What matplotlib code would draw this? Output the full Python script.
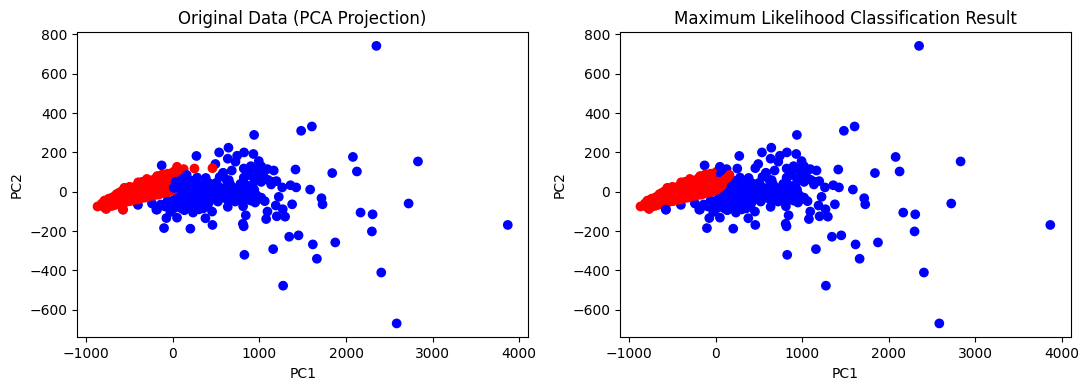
import matplotlib
matplotlib.use("Agg")
import matplotlib.pyplot as plt

# groups: (pc1, pc2)
both_blue_pc1 = [2350, 938, 1481, 1605, 822, 930, 992, 2079, 2830, 1416, 1840, 2125, 1092, 1165, 1196, 1135, 1262, 1358, 1424, 1585,
                 1716, 1728, 2722, 2167, 2306, 2298, 3867, 1223, 1061, 1188, 1377, 1269, 1092, 1077, 1200, 1296, 842, 818, 826,
                 1343, 1451, 1616, 1875, 1158, 1663, 2406, 1273, 2584,
                 642, 534, 634, 742, 723, 272, 491, -129, 1020, 819, 580, 680, 819, 993, 280, 646, 811, 808, 634, 530, 453, 376, 457,
                 202, -102, -75, 48, 133, 233, -183, -403, -576,
                 60, 100, 140, 180, 220, 260, 300, 340, 380, 420, 460, 500, 540, 580, 620, 660,
                 60, 110, 150, 200, 240, 280, 320, 360, 400, 440, 480, 520, 560,
                 700, 740, 780, 820, 860, 900, 940, 980, 1020, 700, 760, 800, 850, 900, 950, 980,
                 860, 900, 950, 1000, 880, 940, 1050, 1100, 1150, 830, 1020,
                 -140, -90, -40, 10, -60, 0, 70, 160, 120, 230,
                 30, 80, 130, 170, 210, 250, 290, 330, 370, 410, 450, 490,
                 20, 70, 120, 165, 215, 255, 295, 335, 375, 415, 430, 470,
                 40, 90, 180, 230, 270, 310, 350, 390, 520, 600, 640, 680,
                 -241, -191, -106, -29, 68, -29, 100, 160, 220, 300, 400,
                 580, 620, 660, 600, 740, 780, 860, 720, 830, 640, 920, 960]
both_blue_pc2 = [742, 289, 310, 332, 200, 192, 156, 177, 154, 113, 95, 103, 115, 108, 54, 37, 22, 33, 22, 11,
                 -33, -64, -60, -106, -115, -202, -169, -26, -48, -70, -64, -89, -101, -139, -125, -127, -120, -176, -321,
                 -229, -222, -268, -258, -292, -341, -411, -478, -670,
                 224, 200, 168, 183, 153, 182, 141, 134, 130, 118, 96, 108, 72, 93, 72, 59, -74, -163, -77, -23, -101, -135, -169,
                 -188, -185, -134, -132, -94, -106, -91, -67, -91,
                 40, 20, -5, 30, 55, 10, -20, 35, 70, 20, -5, 45, 75, 95, 60, 40,
                 -20, -40, -60, -35, -10, -50, -30, -70, -40, -20, 10, 30, -10,
                 -10, 10, 0, -15, 20, -5, 10, -25, -30, 20, -35, -50, -40, -45, -55, -40,
                 110, 130, 115, 90, 85, 65, 75, 60, 50, 40, 50,
                 -65, -75, -60, -85, -45, -50, -70, -50, -30, -45,
                 5, 10, 35, 5, 25, 40, 15, -5, 40, 45, 35, 10,
                 -40, -10, 5, -20, -50, -25, -45, -25, -5, -55, 40, -35,
                 -60, -55, -55, -65, -70, -55, -85, -60, -50, -30, 25, 5,
                 -60, -91, -69, -60, -77, -103, -85, -85, -80, -90, -75,
                 -30, -15, 10, 20, -20, 40, -25, -50, 25, -45, 35, -15]

both_red_pc1 = [-870, -820, -820, -790, -790, -790, -770, -770, -770, -740, -740, -740, -700, -700, -700, -680, -680, -680,
                -650, -650, -650, -650, -620, -620, -620, -620, -590, -590, -590, -590, -560, -560, -560, -560,
                -530, -530, -530, -530, -500, -500, -500, -500, -470, -470, -470, -470, -440, -440, -440, -440,
                -410, -410, -410, -410, -380, -380, -380, -380, -350, -350, -350, -350, -320, -320, -320, -320,
                -290, -290, -290, -290, -260, -260, -260, -260, -230, -230, -230, -230, -200, -200, -200, -200,
                -170, -170, -170, -170, -140, -140, -140, -140, -110, -110, -110, -110, -80, -80, -80, -80,
                -50, -50, -50, -50, -20, -20, -20, 10, 10, -355, -190, -120, -30, -560,
                -500, -400, -300, -180, -120, -60, 10, 40, 70, 30, 50, 10, 20, -20, 0]
both_red_pc2 = [-75, -70, -60, -80, -60, -45, -88, -70, -50, -75, -55, -35, -72, -50, -30, -68, -45, -25,
                -65, -40, -20, -12, -60, -38, -15, -5, -55, -30, -10, 3, -55, -25, -5, 8,
                -50, -20, 0, 10, -48, -20, 5, 15, -45, -15, 10, 20, -40, -10, 15, 25,
                -40, -5, 20, 32, -35, 0, 25, 42, -30, 5, 30, 48, -30, 10, 35, 50,
                -25, 15, 40, 52, -20, 15, 40, 55, -20, 15, 45, 60, -15, 20, 45, 65,
                -15, 20, 50, 70, -10, 25, 50, 72, -5, 25, 55, 70, -5, 30, 55, 75,
                0, 30, 60, 80, 5, 35, 60, 10, 35, 50, 72, 80, 92, 20,
                25, 48, 65, 80, 88, 92, 102, 82, 92, 62, 70, 60, 85, 75, 95]

red_left_pc1 = [-576, 48, 125, 249, 457, 100, 60]
red_left_pc2 = [-91, 127, 115, 118, 120, 100, 90]

red_right_pc1 = [10, 30, 80, 100, 130, 160, 40, 70]
red_right_pc2 = [20, 50, 45, 60, 70, 85, 20, 30]

# 1 = red class, 0 = blue class, drawn in this order
pc1 = both_blue_pc1 + both_red_pc1 + red_left_pc1 + red_right_pc1
pc2 = both_blue_pc2 + both_red_pc2 + red_left_pc2 + red_right_pc2
original = [0] * len(both_blue_pc1) + [1] * len(both_red_pc1) + [1] * len(red_left_pc1) + [0] * len(red_right_pc1)
classified = [0] * len(both_blue_pc1) + [1] * len(both_red_pc1) + [0] * len(red_left_pc1) + [1] * len(red_right_pc1)

titles = ["Original Data (PCA Projection)", "Maximum Likelihood Classification Result"]

fig, axes = plt.subplots(1, 2, figsize=(10.88, 3.9), dpi=100)
for ax, labels, title in zip(axes, (original, classified), titles):
    ax.scatter(pc1, pc2, c=labels, cmap="bwr", vmin=0, vmax=1)
    ax.set_title(title, fontsize=12)
    ax.set_xlabel("PC1", fontsize=10)
    ax.set_ylabel("PC2", fontsize=10)
axes[0].set_position([77 / 1088, 1 - 337.3 / 390, (528.3 - 77) / 1088, 305.3 / 390])
axes[1].set_position([620 / 1088, 1 - 337.3 / 390, (1070.8 - 620) / 1088, 305.3 / 390])
fig.savefig("out.png", dpi=100)
